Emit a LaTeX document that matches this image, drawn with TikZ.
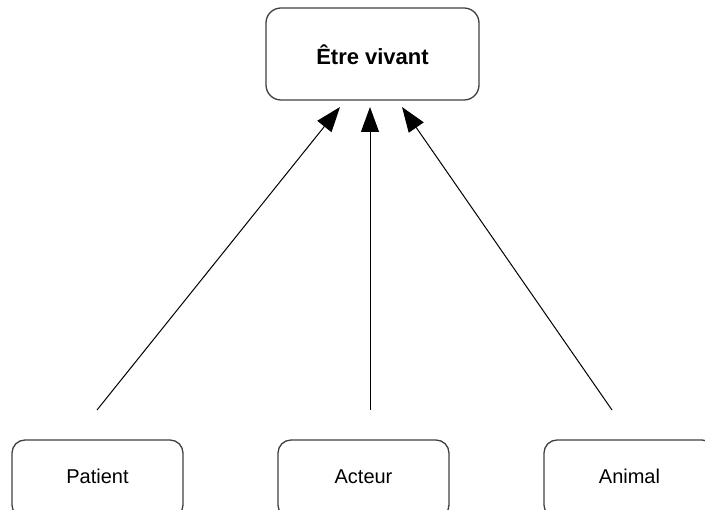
\documentclass[tikz,border=0pt]{standalone}
\usepackage{fontspec}
\setmainfont{Liberation Sans}
\usetikzlibrary{arrows.meta}
\begin{document}
\begin{tikzpicture}[x=1pt,y=-1pt,
  topbox/.style={draw=black!75,line width=1.3pt,rounded corners=15pt,minimum width=213pt,minimum height=92pt,inner sep=0pt,text height=22pt,text depth=0pt,font=\fontsize{22}{26}\selectfont\bfseries},
  leafbox/.style={draw=black!75,line width=1.3pt,rounded corners=13pt,minimum width=171pt,minimum height=78pt,inner sep=0pt,text height=15pt,text depth=5pt,font=\fontsize{20}{24}\selectfont},
  isa/.style={line width=1pt,-{Triangle[length=25pt,width=18pt]}}]
\useasboundingbox (0,0) rectangle (705,510);
\node[topbox] (etre) at (372.5,54) {Être vivant};
\node[leafbox] (patient) at (97.5,479) {Patient};
\node[leafbox] (acteur) at (363.5,479) {Acteur};
\node[leafbox] (animal) at (629.5,479) {Animal};
\coordinate (p0) at (97,410);
\coordinate (a0) at (370,410);
\coordinate (n0) at (612,410);
\coordinate (p1) at (340,107);
\coordinate (a1) at (370,107);
\coordinate (n1) at (402,107);
\draw[isa] (p0) -- (p1);
\draw[isa] (a0) -- (a1);
\draw[isa] (n0) -- (n1);
\end{tikzpicture}
\end{document}
